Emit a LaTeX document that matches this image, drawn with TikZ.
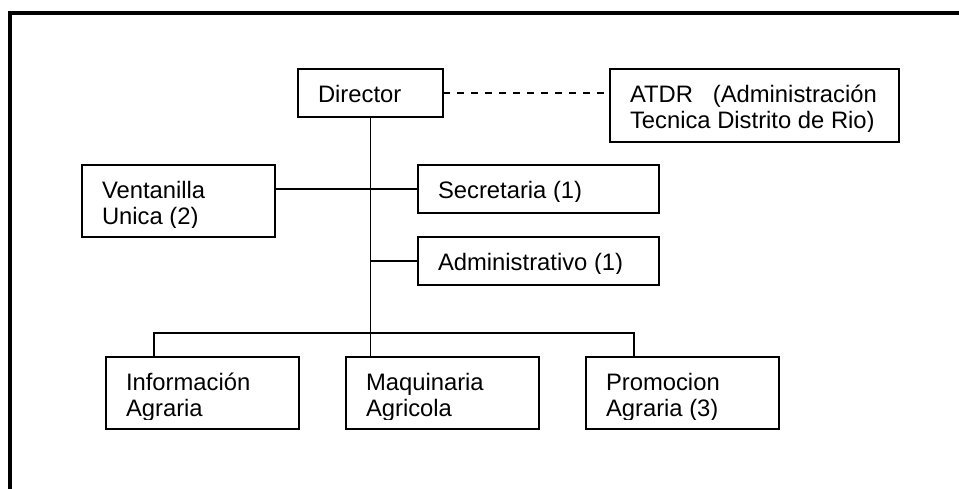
\documentclass[tikz,border=0pt]{standalone}
\usepackage{fontspec}
\setmainfont{Liberation Sans}

% One organisational unit: a framed box with its label set left-aligned
% from the top, the label cut off at a fixed depth inside the frame.
% #1 name, #2/#3 centre, #4/#5 width/height, #6 clip depth, #7 label
\newcommand\unitnode[7]{%
  \node[unitbox, minimum width=#4pt, minimum height=#5pt] (#1) at (#2,#3) {};
  \begin{scope}
    \clip ([yshift=-1pt]#1.north west) rectangle ([yshift=-#6pt]#1.north east);
    \node[boxtext] (#1-txt) at ([xshift=20pt,yshift=-33.5pt]#1.north west)
      {\parbox[t]{#4pt}{\fontsize{23.8pt}{26pt}\selectfont\raggedright #7}};
  \end{scope}}

\begin{document}
\begin{tikzpicture}[x=1pt,y=-1pt,
  unitbox/.style={draw, line width=1.45pt, inner sep=0pt, outer sep=0pt},
  boxtext/.style={anchor=base west, inner sep=0pt, outer sep=0pt},
  link/.style={line width=1.45pt},
  dashlink/.style={line width=1.45pt, dash pattern=on 7pt off 7pt}]
\useasboundingbox (0,0) rectangle (959,488);
\fill[white] (0,0) rectangle (959,488);

% page frame
\draw[line width=4pt] (10.3,500) -- (10.3,13) -- (970,13);

% units
\unitnode{dir}{370.5}{93}{145}{48}{36}{Director}
\unitnode{atdr}{754.5}{105.5}{289}{73}{62}{ATDR\ \ \ (Administración\\Tecnica Distrito de Rio)}
\unitnode{vent}{178.5}{201}{193}{72}{62}{Ventanilla\\Unica (2)}
\unitnode{sec}{538.5}{189}{241}{48}{36}{Secretaria (1)}
\unitnode{adm}{538.5}{261}{241}{48}{36}{Administrativo (1)}
\unitnode{info}{202.5}{393}{193}{72}{62}{Información\\Agraria}
\unitnode{maq}{442.5}{393}{193}{72}{62}{Maquinaria\\Agricola}
\unitnode{promo}{682.5}{393}{193}{72}{62}{Promocion\\Agraria (3)}

% connectors
\draw[link] (dir.south) -- (dir.south |- maq.north);
\draw[link] (sec.west) -- (sec.west -| vent.east);
\draw[link] (adm.west) -- (adm.west -| dir.south);
\coordinate (busL) at ([xshift=48pt]info.north west);
\coordinate (busR) at ([xshift=48pt]promo.north west);
\draw[link] (busL) -- ++(0,-24) -| (busR);
\draw[dashlink] (dir.east) -- (dir.east -| atdr.west);
\end{tikzpicture}
\end{document}
